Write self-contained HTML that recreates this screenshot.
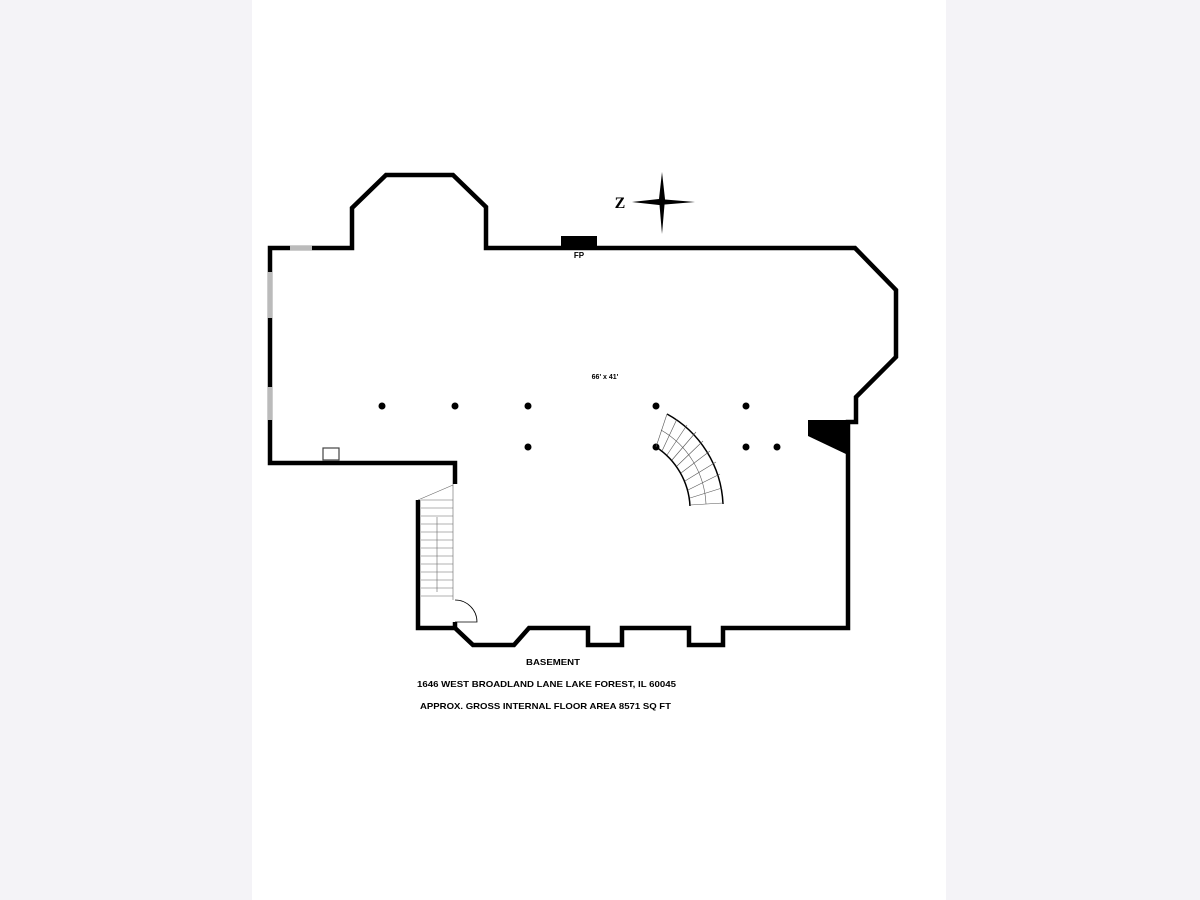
<!DOCTYPE html>
<html><head><style>
html,body{margin:0;padding:0;background:#f4f3f7;}
.page{position:absolute;left:252px;top:0;width:694px;height:900px;background:#fff;}
svg{position:absolute;left:0;top:0;}
</style></head><body>
<div class="page"></div>
<svg width="1200" height="900" viewBox="0 0 1200 900">
<g fill="none" stroke="#000" stroke-width="4.5" stroke-linejoin="miter">
<path d="M455,484 L455,463 L270,463 L270,248 L352,248 L352,208 L386,175 L453,175 L486,207 L486,248 L855,248 L896,290 L896,357 L856,397 L856,422 L848,422 L848,628 L723,628 L723,645 L689,645 L689,628 L622,628 L622,645 L588,645 L588,628 L529,628 L514,645 L473,645 L455,628 L418,628 L418,500"/>
<path d="M455,628 L455,622"/>
</g>
<g stroke="#bbb" stroke-width="4.5">
<line x1="290" y1="248" x2="312" y2="248"/>
<line x1="270" y1="272" x2="270" y2="318"/>
<line x1="270" y1="387" x2="270" y2="420"/>
</g>
<rect x="561" y="236" width="36" height="12" fill="#000"/>
<text x="579" y="258" font-family="Liberation Sans,sans-serif" font-size="8" font-weight="bold" text-anchor="middle">FP</text>
<text x="605" y="379" font-family="Liberation Sans,sans-serif" font-size="7" font-weight="bold" text-anchor="middle">66' x 41'</text>
<g fill="#000">
<circle cx="382" cy="406" r="3.5"/><circle cx="455" cy="406" r="3.5"/><circle cx="528" cy="406" r="3.5"/><circle cx="656" cy="406" r="3.5"/><circle cx="746" cy="406" r="3.5"/>
<circle cx="528" cy="447" r="3.5"/><circle cx="656" cy="447" r="3.5"/><circle cx="746" cy="447" r="3.5"/><circle cx="777" cy="447" r="3.5"/>
<polygon points="808,420 848,420 848,455 808,436"/>
</g>
<g fill="none" stroke="#000" stroke-width="1.5">
<path d="M656,447 A75,75 0 0 1 690,506"/>
<path d="M667,414 A108,108 0 0 1 723,504"/>
</g>
<g stroke="#555" stroke-width="0.6">
<line x1="656" y1="447" x2="667" y2="414"/>
<line x1="662" y1="451" x2="677" y2="419"/>
<line x1="667" y1="455" x2="687" y2="425"/>
<line x1="672" y1="460" x2="696" y2="432"/>
<line x1="677" y1="466" x2="703" y2="441"/>
<line x1="681" y1="473" x2="710" y2="451"/>
<line x1="685" y1="481" x2="716" y2="462"/>
<line x1="688" y1="490" x2="720" y2="474"/>
<line x1="690" y1="498" x2="722" y2="488"/>
<line x1="690" y1="505" x2="723" y2="503"/>
<path d="M661,430 A90,90 0 0 1 706,504" fill="none"/>
</g>
<g stroke="#666" stroke-width="0.6">
<line x1="418" y1="500" x2="453" y2="485"/>
<line x1="421" y1="500" x2="453" y2="500"/>
<line x1="421" y1="508" x2="453" y2="508"/>
<line x1="421" y1="516" x2="453" y2="516"/>
<line x1="421" y1="524" x2="453" y2="524"/>
<line x1="421" y1="532" x2="453" y2="532"/>
<line x1="421" y1="540" x2="453" y2="540"/>
<line x1="421" y1="548" x2="453" y2="548"/>
<line x1="421" y1="556" x2="453" y2="556"/>
<line x1="421" y1="564" x2="453" y2="564"/>
<line x1="421" y1="572" x2="453" y2="572"/>
<line x1="421" y1="580" x2="453" y2="580"/>
<line x1="421" y1="588" x2="453" y2="588"/>
<line x1="421" y1="596" x2="453" y2="596"/>
<line x1="437" y1="517" x2="437" y2="592"/>
<line x1="453" y1="484" x2="453" y2="600"/>
</g>
<g fill="none" stroke="#000" stroke-width="0.8">
<path d="M455,600 A22,22 0 0 1 477,622 L455,622"/>
</g>
<rect x="323" y="448" width="16" height="12" fill="none" stroke="#444" stroke-width="1.2"/>
<g fill="#000">
<polygon points="662,172 665,199 662,234 659,199"/>
<polygon points="632,202 659,199 695,202 659,205"/>
</g>
<text x="620" y="208" font-family="Liberation Serif,serif" font-size="16" font-weight="bold" text-anchor="middle">Z</text>
<g font-family="Liberation Sans,sans-serif" font-size="8.5" font-weight="bold">
<text x="526" y="665" textLength="54" lengthAdjust="spacingAndGlyphs">BASEMENT</text>
<text x="417" y="687" textLength="259" lengthAdjust="spacingAndGlyphs">1646 WEST BROADLAND LANE LAKE FOREST, IL  60045</text>
<text x="420" y="709" textLength="251" lengthAdjust="spacingAndGlyphs">APPROX. GROSS INTERNAL FLOOR AREA 8571 SQ FT</text>
</g>
</svg>
</body></html>
